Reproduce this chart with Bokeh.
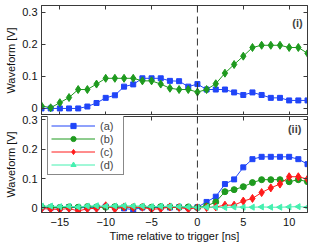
import math
from bokeh.plotting import figure
from bokeh.layouts import column
from bokeh.models import (Range1d, LinearAxis, FixedTicker, CustomJSTickFormatter,
                          Span, Label, Legend, LegendItem)
from bokeh.embed import file_html
from bokeh.resources import INLINE

# ---------------- data ----------------
time_ns = list(range(-17, 13))

top_a = [0.0, 0.0, 0.0, 0.0, 0.0, 0.006, 0.017, 0.033, 0.041, 0.068, 0.075, 0.094, 0.094, 0.094,
         0.086, 0.085, 0.068, 0.076, 0.059, 0.059, 0.059, 0.050, 0.042, 0.050, 0.042, 0.033,
         0.033, 0.025, 0.025, 0.025]
top_b = [0.008, 0.002, 0.018, 0.034, 0.059, 0.059, 0.076, 0.094, 0.094, 0.094, 0.094, 0.086,
         0.086, 0.076, 0.063, 0.059, 0.059, 0.051, 0.059, 0.077, 0.110, 0.137, 0.163, 0.190,
         0.197, 0.197, 0.197, 0.190, 0.190, 0.172]

bot_a = [0.001, 0.0, 0.0, 0.002, 0.0, 0.001, 0.002, 0.004, 0.002, -0.002, -0.006, 0.001, 0.0,
         0.002, 0.001, 0.002, 0.001, 0.002, 0.020, 0.038, 0.081, 0.097, 0.138, 0.166, 0.174,
         0.174, 0.174, 0.174, 0.166, 0.149]
bot_b = [0.003, 0.002, 0.001, 0.003, 0.002, 0.004, 0.003, 0.002, 0.004, 0.003, 0.002, 0.003,
         0.002, 0.004, 0.003, 0.002, 0.003, 0.001, 0.006, 0.020, 0.055, 0.062, 0.072, 0.086,
         0.096, 0.096, 0.096, 0.089, 0.096, 0.089]
bot_c = [-0.003, -0.004, -0.006, -0.002, -0.011, -0.003, -0.002, 0.007, -0.004, 0.003, 0.001,
         0.002, -0.005, -0.003, 0.003, 0.001, -0.004, 0.0, 0.001, 0.003, 0.009, 0.009, 0.023,
         0.032, 0.052, 0.068, 0.081, 0.106, 0.106, 0.098]
bot_d = [0.006, 0.006, 0.004, 0.005, 0.003, 0.006, 0.007, 0.005, 0.006, 0.007, 0.006, 0.006,
         0.004, 0.005, 0.005, 0.004, 0.003, 0.001, 0.002, 0.002, 0.001, 0.003, 0.002, 0.002,
         0.003, 0.002, 0.002, 0.003, 0.004, 0.002]

series_labels = ["(a)", "(b)", "(c)", "(d)"]
x_ticks = [-15, -10, -5, 0, 5, 10]
y_ticks = [0, 0.1, 0.2, 0.3]

# ---------------- style ----------------
C_A = "#2045f8"
C_B = "#1e9a1e"
C_C = "#ff1a1a"
C_D = "#45f0b0"
AX = "#3a3a3a"
FONT = "Liberation Sans"
FS = "11px"

xfmt = CustomJSTickFormatter(code="return tick.toString().replace('-', '\u2212');")
yfmt = CustomJSTickFormatter(code="return tick == 0 ? '0' : tick.toFixed(1);")
blank = CustomJSTickFormatter(code="return '';")


def style_axis(ax, labels=True, standoff=4):
    ax.axis_line_color = AX
    ax.major_tick_line_color = AX
    ax.major_tick_in = 4
    ax.major_tick_out = 0
    ax.minor_tick_line_color = None
    ax.major_label_text_font = FONT
    ax.major_label_text_font_size = FS
    ax.major_label_text_color = "#111111"
    ax.major_label_standoff = standoff if labels else 0
    ax.axis_label_text_font = FONT
    ax.axis_label_text_font_size = FS
    ax.axis_label_text_font_style = "normal"
    ax.axis_label_text_color = "#111111"
    ax.axis_label_standoff = 2
    if not labels:
        ax.formatter = blank


def make_fig(frame_h, yr, top_border, bottom_border, show_x_labels):
    p = figure(frame_width=266, frame_height=frame_h,
               x_range=Range1d(-17, 12), y_range=Range1d(*yr),
               output_backend="svg", toolbar_location=None,
               min_border_left=41, min_border_right=3,
               min_border_top=top_border, min_border_bottom=bottom_border)
    p.xgrid.visible = False
    p.ygrid.visible = False
    p.outline_line_color = AX
    p.background_fill_color = "white"
    p.border_fill_color = "white"
    bx = p.below[0]
    ly = p.left[0]
    bx.ticker = FixedTicker(ticks=x_ticks)
    ly.ticker = FixedTicker(ticks=y_ticks)
    bx.formatter = xfmt
    ly.formatter = yfmt
    style_axis(bx, labels=show_x_labels, standoff=5)
    style_axis(ly, labels=True, standoff=4)
    ly.axis_label = "Waveform [V]"
    # mirrored ticks (box)
    ra = LinearAxis(ticker=FixedTicker(ticks=y_ticks))
    style_axis(ra, labels=False)
    p.add_layout(ra, "right")
    ta = LinearAxis(ticker=FixedTicker(ticks=x_ticks))
    style_axis(ta, labels=False)
    p.add_layout(ta, "above")
    p.add_layout(Span(location=0, dimension="height", line_color="#333333",
                      line_dash="7 4", line_width=1))
    return p


# ---------------- top panel ----------------
p1 = make_fig(110, (-0.022, 0.321), 5, 0, False)
p1.line(time_ns, top_a, line_color=C_A, line_width=1)
p1.scatter(time_ns, top_a, marker="square", size=5, fill_color=C_A, line_color=C_A)
p1.line(time_ns, top_b, line_color=C_B, line_width=1)
p1.scatter(time_ns, top_b, marker="diamond", size=8, fill_color=C_B, line_color=C_B)
p1.add_layout(Label(x=10.9, y=0.266, text="(i)", text_font=FONT, text_font_size=FS,
                    text_font_style="bold", text_align="center", text_baseline="middle"))

# ---------------- bottom panel ----------------
p2 = make_fig(96, (-0.016, 0.3116), 1, 0, True)
p2.below[0].axis_label = "Time relative to trigger [ns]"
p2.below[0].axis_label_standoff = 1

items = []
specs = [(bot_a, C_A, "square", 5, 0.0), (bot_b, C_B, "circle", 6, 0.0),
         (bot_c, C_C, "diamond", 8, 0.0), (bot_d, C_D, "triangle", 6, math.pi / 2)]
for (vals, col, mk, sz, ang), lab in zip(specs, series_labels):
    r1 = p2.line(time_ns, vals, line_color=col, line_width=1)
    r2 = p2.scatter(time_ns, vals, marker=mk, size=sz, angle=ang, fill_color=col, line_color=col)
    items.append(LegendItem(label=lab, renderers=[r1, r2]))

p2.add_layout(Label(x=10.6, y=0.27, text="(ii)", text_font=FONT, text_font_size=FS,
                    text_font_style="bold", text_align="center", text_baseline="middle"))

legend = Legend(items=items, location=(6, 37), margin=0, padding=3, spacing=0,
                glyph_width=44, glyph_height=13, label_height=13, label_standoff=5,
                label_text_font=FONT, label_text_font_size=FS,
                border_line_color="#111111", border_line_width=1,
                background_fill_color="white", background_fill_alpha=1.0)
p2.add_layout(legend)

layout = column(p1, p2, spacing=0)
open("out.html", "w").write(file_html(layout, INLINE))
